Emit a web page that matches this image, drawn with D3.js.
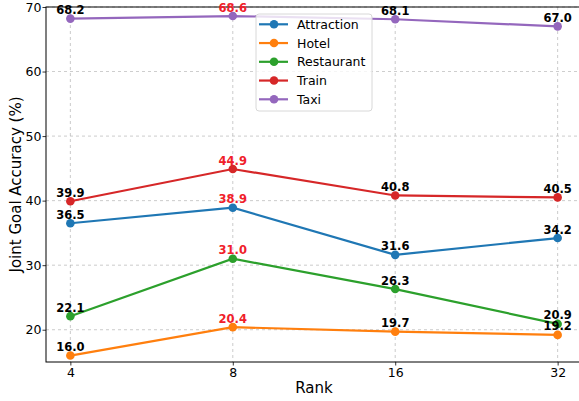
<!DOCTYPE html>
<html>
<head>
  <meta charset="utf-8">
  <title></title>
  <style>
    body { margin: 0; background: #fff; }
    text { font-family: "DejaVu Sans", sans-serif; }
  </style>
  <script src="https://d3js.org/d3.v7.min.js"></script>
</head>
<body>
  <svg id="chart" width="579" height="401"></svg>
  <script>
    // data
    const ranks = ["4", "8", "16", "32"]
    const names = ["Attraction", "Hotel", "Restaurant", "Train", "Taxi"]
    const attraction = [36.5, 38.9, 31.6, 34.2]
    const hotel = [16.0, 20.4, 19.7, 19.2]
    const restaurant = [22.1, 31.0, 26.3, 20.9]
    const train = [39.9, 44.9, 40.8, 40.5]
    const taxi = [68.2, 68.6, 68.1, 67.0]
    const yTicks = [20, 30, 40, 50, 60, 70]

    const colors = ["#1f77b4", "#ff7f0e", "#2ca02c", "#d62728", "#9467bd"]
    const series = [attraction, hotel, restaurant, train, taxi].map((v, i) => ({ name: names[i], values: v, color: colors[i] }))

    const svg = d3.select("#chart")
    const mLeft = 46, mRight = 582, mTop = 7, mBottom = 362

    const x = d3.scaleLinear().domain([-0.15, 3.15]).range([mLeft, mRight])
    const y = d3.scaleLinear().domain([15, 70]).range([mBottom, mTop])

    // grid
    const grid = svg.append("g")
    grid.selectAll(".gx").data(ranks).enter().append("line")
      .attr("x1", (d, i) => x(i)).attr("x2", (d, i) => x(i))
      .attr("y1", mTop).attr("y2", mBottom)
    grid.selectAll(".gy").data(yTicks).enter().append("line")
      .attr("x1", mLeft).attr("x2", mRight)
      .attr("y1", d => y(d)).attr("y2", d => y(d))
    grid.selectAll("line")
      .attr("stroke", "#b0b0b0").attr("stroke-width", 0.8)
      .attr("stroke-dasharray", "3,3").attr("opacity", 0.8)

    // axes
    const xAxis = d3.axisBottom(x).tickValues(d3.range(ranks.length))
      .tickFormat(i => ranks[i]).tickSize(3.5).tickSizeOuter(0).tickPadding(2.5)
    const yAxis = d3.axisLeft(y).tickValues(yTicks).tickSize(3.5).tickSizeOuter(0).tickPadding(1)

    const gx = svg.append("g").attr("transform", `translate(0,${mBottom})`).call(xAxis)
    const gy = svg.append("g").attr("transform", `translate(${mLeft},0)`).call(yAxis)
    ;[gx, gy].forEach(g => {
      g.select(".domain").remove()
      g.selectAll("text").attr("font-size", "12.5px").attr("fill", "#000")
        .style("font-family", "DejaVu Sans")
      g.selectAll("line").attr("stroke", "#000").attr("stroke-width", 0.8)
    })

    // frame
    svg.append("rect")
      .attr("x", mLeft).attr("y", mTop)
      .attr("width", mRight - mLeft).attr("height", mBottom - mTop)
      .attr("fill", "none").attr("stroke", "#000").attr("stroke-width", 1)

    // lines and markers
    const line = d3.line().x((d, i) => x(i)).y(d => y(d))
    series.forEach(s => {
      svg.append("path").datum(s.values)
        .attr("d", line).attr("fill", "none")
        .attr("stroke", s.color).attr("stroke-width", 2.2)
      svg.selectAll(null).data(s.values).enter().append("circle")
        .attr("cx", (d, i) => x(i)).attr("cy", d => y(d))
        .attr("r", 4.3).attr("fill", s.color)
    })

    // value labels, best value in red
    series.forEach(s => {
      const best = d3.max(s.values)
      svg.selectAll(null).data(s.values).enter().append("text")
        .attr("x", (d, i) => x(i)).attr("y", d => y(d) - 4.5)
        .attr("text-anchor", "middle")
        .attr("font-size", "11.5px").attr("font-weight", "bold")
        .attr("fill", d => d === best ? "#f0202a" : "#000")
        .text(d => d.toFixed(1))
    })

    // axis titles
    svg.append("text")
      .attr("x", (mLeft + mRight) / 2).attr("y", 393)
      .attr("text-anchor", "middle").attr("font-size", "15px")
      .text("Rank")
    svg.append("text")
      .attr("transform", `translate(21,${(mTop + mBottom) / 2}) rotate(-90)`)
      .attr("text-anchor", "middle").attr("font-size", "15px")
      .text("Joint Goal Accuracy (%)")

    // legend
    const lg = svg.append("g")
    lg.append("rect")
      .attr("x", 256).attr("y", 14).attr("width", 116).attr("height", 97)
      .attr("rx", 3).attr("fill", "#fff").attr("fill-opacity", 0.8)
      .attr("stroke", "#d8d8d8").attr("stroke-width", 1)
    series.forEach((s, i) => {
      const cy = 24.3 + i * 18.75
      lg.append("line").attr("x1", 259).attr("x2", 288).attr("y1", cy).attr("y2", cy)
        .attr("stroke", s.color).attr("stroke-width", 2.2)
      lg.append("circle").attr("cx", 274).attr("cy", cy).attr("r", 4.3).attr("fill", s.color)
      lg.append("text").attr("x", 297).attr("y", cy + 4.5)
        .attr("font-size", "12.5px").text(s.name)
    })
  </script>
</body>
</html>
